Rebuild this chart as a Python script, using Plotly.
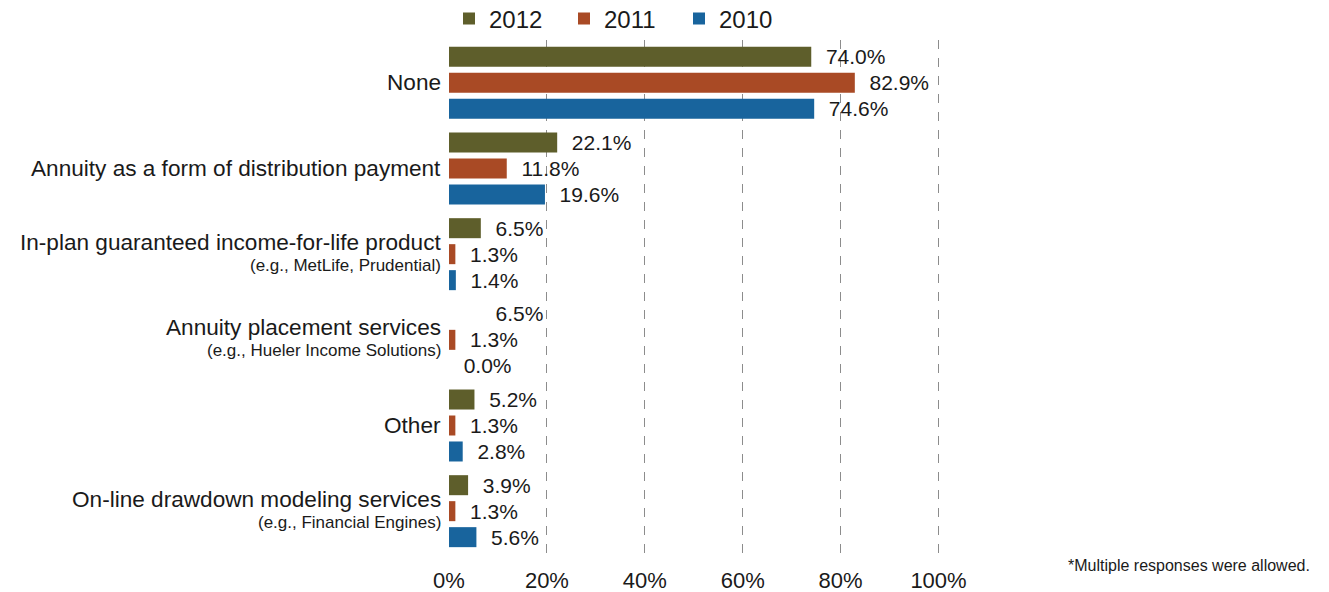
import plotly.graph_objects as go

categories = [
    "None",
    "Annuity as a form of distribution payment",
    "In-plan guaranteed income-for-life product",
    "Annuity placement services",
    "Other",
    "On-line drawdown modeling services",
]
subtitles = [
    "",
    "",
    "(e.g., MetLife, Prudential)",
    "(e.g., Hueler Income Solutions)",
    "",
    "(e.g., Financial Engines)",
]
series_names = ["2012", "2011", "2010"]
values_2012 = [74.0, 22.1, 6.5, 6.5, 5.2, 3.9]
values_2011 = [82.9, 11.8, 1.3, 1.3, 1.3, 1.3]
values_2010 = [74.6, 19.6, 1.4, 0.0, 2.8, 5.6]
colors = ["#5E5E2B", "#A94A25", "#18649D"]
tick_vals = [0, 20, 40, 60, 80, 100]
tick_labels = ["0%", "20%", "40%", "60%", "80%", "100%"]
footnote = "*Multiple responses were allowed."

FONT = "Liberation Sans, Arial, sans-serif"
TXT = "#1a1a1a"

fig = go.Figure()
all_vals = [values_2012, values_2011, values_2010]
for i, (name, vals) in enumerate(zip(series_names, all_vals)):
    mcolors = [colors[i]] * len(vals)
    if i == 0:
        # in the original, this bar is not drawn though its label is
        mcolors[3] = "rgba(0,0,0,0)"
    fig.add_trace(go.Bar(
        name=name,
        y=categories,
        x=vals,
        orientation="h",
        marker=dict(color=mcolors, line=dict(width=0)),
        text=[f"  {v:.1f}%" for v in vals],
        textposition="outside",
        constraintext="none",
        textfont=dict(size=21, color=TXT, family=FONT),
        cliponaxis=False,
    ))

annotations = []
for c, s in zip(categories, subtitles):
    if s:
        annotations.append(dict(text=c, xref="paper", yref="y", x=0, y=c,
                                xanchor="right", yanchor="middle", xshift=-6, yshift=12,
                                showarrow=False, font=dict(size=22.6, color=TXT)))
        annotations.append(dict(text=s, xref="paper", yref="y", x=0, y=c,
                                xanchor="right", yanchor="middle", xshift=-6, yshift=-11,
                                showarrow=False, font=dict(size=17, color=TXT)))
    else:
        annotations.append(dict(text=c, xref="paper", yref="y", x=0, y=c,
                                xanchor="right", yanchor="middle", xshift=-6,
                                showarrow=False, font=dict(size=22.6, color=TXT)))
annotations.append(dict(text=footnote, xref="paper", yref="paper", x=1.758, y=0,
                        xanchor="right", yanchor="top", yshift=-1, showarrow=False,
                        font=dict(size=16, color=TXT)))

# the page body has an 8px margin, so the figure is made 8px smaller
fig.update_layout(
    width=1321, height=584,
    margin=dict(l=441, r=389, t=32, b=38, autoexpand=False),
    paper_bgcolor="white", plot_bgcolor="white",
    barmode="group", bargap=0.09, bargroupgap=0.23,
    font=dict(family=FONT, color=TXT),
    showlegend=True,
    legend=dict(orientation="h", x=0.0, xanchor="left",
                yref="container", y=1 - 11 / 584, yanchor="middle",
                bgcolor="rgba(0,0,0,0)",
                font=dict(size=24), traceorder="normal",
                entrywidth=70, entrywidthmode="pixels"),
    xaxis=dict(range=[0, 100.3], tickvals=tick_vals, ticktext=tick_labels,
               showgrid=True, gridcolor="#8c8c8c", griddash="dash", gridwidth=1,
               zeroline=False, showline=False, ticks="",
               tickfont=dict(size=22), ticklabelstandoff=11),
    yaxis=dict(categoryorder="array", categoryarray=categories, autorange="reversed",
               showticklabels=False, ticks="",
               showgrid=False, zeroline=False, showline=False),
    annotations=annotations,
)

fig.write_html("out.html")
